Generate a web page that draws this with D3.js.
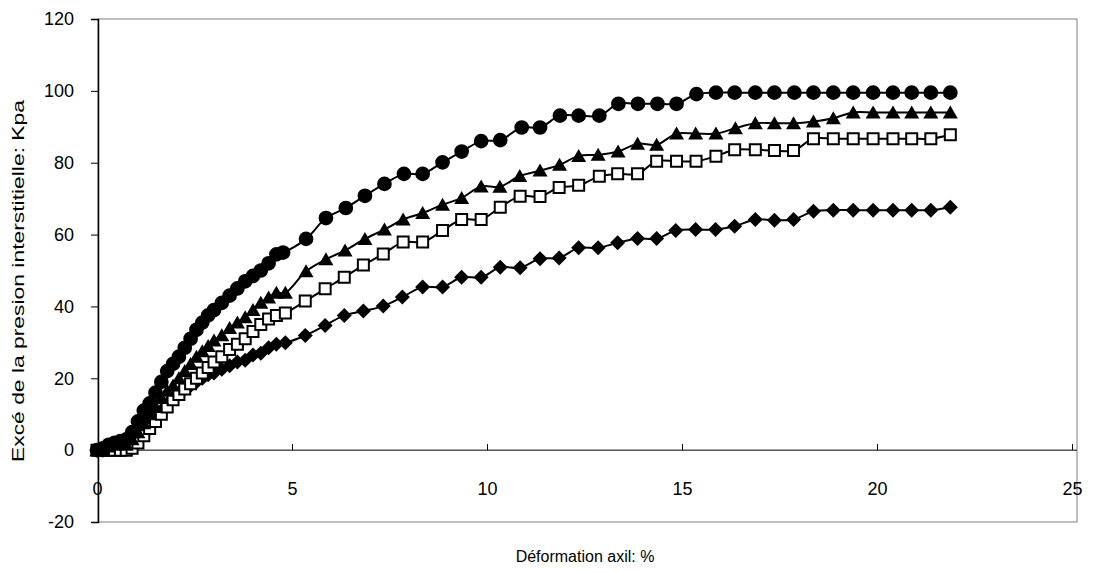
<!DOCTYPE html>
<html>
<head>
<meta charset="utf-8">
<script src="https://cdn.jsdelivr.net/npm/d3@7/dist/d3.min.js"></script>
<style>
  html, body { margin: 0; padding: 0; background: #fff; }
  svg text { font-family: Arial, "Liberation Sans", sans-serif; fill: #000; }
</style>
</head>
<body>
<svg id="chart" width="1093" height="573"></svg>
<script>
// Axial strain (%) and excess pore pressure (kPa) for four tests
const circleX = [0,0.15,0.3,0.45,0.6,0.75,0.9,1.05,1.2,1.35,1.5,1.65,1.8,1.95,2.1,2.25,2.4,2.55,2.7,2.85,3.0,3.2,3.4,3.6,3.8,4.0,4.2,4.4,4.6,4.77,5.36,5.87,6.38,6.87,7.37,7.87,8.35,8.86,9.35,9.85,10.34,10.89,11.36,11.87,12.35,12.88,13.37,13.87,14.37,14.86,15.37,15.87,16.35,16.88,17.37,17.88,18.37,18.88,19.39,19.9,20.41,20.89,21.38,21.88];
const circleY = [0,0.5,1.5,2,2.5,3,5,8,11,13,16,19,22,24,26,28.5,31,33.5,35.5,37.5,39,41,43,45,47,48.5,50,52,54.5,55,58.8,64.6,67.4,70.8,74.1,76.9,76.9,80.1,83.1,86,86.3,89.8,89.8,93.1,93.1,93.1,96.4,96.4,96.4,96.4,99.1,99.5,99.5,99.5,99.5,99.5,99.5,99.5,99.5,99.5,99.5,99.5,99.5,99.5];

const triangleX = [0,0.15,0.3,0.45,0.6,0.75,0.9,1.05,1.2,1.35,1.5,1.65,1.8,1.95,2.1,2.25,2.4,2.55,2.7,2.85,3.0,3.2,3.4,3.6,3.8,4.0,4.2,4.4,4.6,4.83,5.36,5.87,6.36,6.87,7.37,7.85,8.35,8.86,9.35,9.85,10.33,10.84,11.36,11.86,12.35,12.85,13.36,13.86,14.35,14.86,15.35,15.87,16.37,16.88,17.37,17.86,18.37,18.88,19.39,19.9,20.41,20.89,21.38,21.88];
const triangleY = [0,0,1,1.5,2,1.5,3,5,7.5,10,12,14.5,16.5,18,20,22,24,26,27.5,29,30.5,32,34,35.5,37,39,41,42.5,43.8,43.8,49.8,53.1,55.6,58.8,61.4,64.2,66,68.3,70.2,73.4,73.3,76.3,77.8,79.4,81.9,82.2,83.1,85.3,85,88.1,88.1,88.1,89.6,91,91,91,91.5,92.4,94,94,94,94,94,94];

const squareX = [0,0.15,0.3,0.45,0.6,0.75,0.9,1.05,1.2,1.35,1.5,1.65,1.8,1.95,2.1,2.25,2.4,2.55,2.7,2.85,3.0,3.2,3.4,3.6,3.8,4.0,4.2,4.4,4.6,4.83,5.34,5.85,6.34,6.83,7.34,7.85,8.35,8.86,9.35,9.85,10.34,10.85,11.36,11.85,12.35,12.88,13.35,13.86,14.35,14.86,15.36,15.87,16.35,16.88,17.37,17.86,18.37,18.88,19.39,19.9,20.41,20.89,21.38,21.88];
const squareY = [0,0,0,0,0,0,0.5,2,4,6,8,10,12,14,15.5,17,18.5,20,21.5,23,24.5,26,28,29.5,31,33,35,36.5,37.5,38.2,41.5,44.9,48.1,51.5,54.6,57.9,57.9,61.1,64.2,64.2,67.6,70.7,70.6,73.1,73.7,76.2,76.9,76.9,80.4,80.4,80.4,81.8,83.6,83.6,83.4,83.4,86.7,86.7,86.7,86.7,86.7,86.7,86.7,87.8];

const diamondX = [0,0.15,0.3,0.45,0.6,0.75,0.9,1.05,1.2,1.35,1.5,1.65,1.8,1.95,2.1,2.25,2.4,2.55,2.7,2.85,3.0,3.2,3.4,3.6,3.8,4.0,4.2,4.4,4.6,4.83,5.34,5.85,6.34,6.83,7.34,7.83,8.35,8.86,9.35,9.85,10.34,10.85,11.36,11.85,12.35,12.85,13.35,13.86,14.35,14.84,15.35,15.86,16.35,16.88,17.37,17.86,18.37,18.88,19.39,19.9,20.41,20.89,21.38,21.88];
const diamondY = [0,0,0.5,1,1.5,1.5,2.5,4,6,7.5,9.5,11,13,14.5,16,17,18,19,20,21,21.5,22.5,23.5,24.5,25,26.5,27,28.5,29.5,29.9,31.9,34.7,37.5,38.7,40.1,42.6,45.4,45.4,48.1,48.1,50.9,50.8,53.3,53.5,56.3,56.3,57.7,58.9,58.9,61.1,61.4,61.4,62.3,64.2,64,64.2,66.5,66.8,66.8,66.8,66.8,66.8,66.8,67.6];

const xTicks = [0, 5, 10, 15, 20, 25];
const yTicks = [-20, 0, 20, 40, 60, 80, 100, 120];
const xTitle = "Déformation axil: %";
const yTitle = "Excé de la presion interstitielle: Kpa";

const svg = d3.select("#chart");
const x = d3.scaleLinear().domain([0, 25]).range([97, 1072]);
const y = d3.scaleLinear().domain([-20, 120]).range([522, 19]);
const frame = { left: 98, right: 1077, top: y(120), bottom: y(-20) };
const tickFont = 18;

// plot area frame
svg.append("rect")
  .attr("x", frame.left).attr("y", frame.top)
  .attr("width", frame.right - frame.left).attr("height", frame.bottom - frame.top)
  .attr("fill", "none").attr("stroke", "#808080").attr("stroke-width", 1);

// value axis (left)
const yAxis = d3.axisLeft(y).tickValues(yTicks).tickSize(7).tickPadding(17).tickFormat(d => String(d));
const gy = svg.append("g").attr("transform", `translate(${frame.left},0)`).call(yAxis);
gy.select(".domain").attr("stroke", "#000").attr("stroke-width", 1.5);
gy.selectAll(".tick line").attr("stroke", "#000");
gy.selectAll(".tick text").attr("font-size", tickFont).attr("font-family", "Arial, 'Liberation Sans', sans-serif");

// strain axis crossing at y = 0, ticks pointing up, labels lower down
const xAxis = d3.axisBottom(x).tickValues(xTicks).tickSize(-6).tickPadding(0).tickFormat(d => String(d));
const gx = svg.append("g").attr("transform", `translate(0,${y(0)})`).call(xAxis);
gx.select(".domain").attr("d", `M${frame.left},0H${frame.right}`).attr("stroke", "#000").attr("stroke-width", 1);
gx.selectAll(".tick line").attr("stroke", "#000");
gx.selectAll(".tick text").attr("font-size", tickFont).attr("font-family", "Arial, 'Liberation Sans', sans-serif")
  .attr("y", 0).attr("dy", 45);

// axis titles
svg.append("text").attr("x", 585).attr("y", 562).attr("text-anchor", "middle")
  .attr("font-size", 16).text(xTitle);
svg.append("text").attr("transform", `translate(24,281) rotate(-90)`)
  .attr("text-anchor", "middle").attr("font-size", 17)
  .attr("textLength", 362).attr("lengthAdjust", "spacingAndGlyphs").text(yTitle);

const line = d3.line().x(d => x(d[0])).y(d => y(d[1])).curve(d3.curveCatmullRom);

// marker shapes, centred on the data point
const shapes = {
  circle: d3.symbol().type(d3.symbolCircle).size(170)(),
  triangle: "M0,-7L7.5,6L-7.5,6Z",
  square: "M-5.5,-5.5H5.5V5.5H-5.5Z",
  diamond: "M0,-7.5L7.5,0L0,7.5L-7.5,0Z"
};

function drawSeries(xs, ys, shape, fill) {
  const pts = xs.map((v, i) => [v, ys[i]]);
  svg.append("path").datum(pts).attr("d", line)
    .attr("fill", "none").attr("stroke", "#000").attr("stroke-width", 2);
  svg.append("g").selectAll("path").data(pts).join("path")
    .attr("transform", d => `translate(${x(d[0])},${y(d[1])})`)
    .attr("d", shapes[shape])
    .attr("fill", fill).attr("stroke", "#000").attr("stroke-width", fill === "#fff" ? 2 : 0);
}

drawSeries(diamondX, diamondY, "diamond", "#000");
drawSeries(squareX, squareY, "square", "#fff");
drawSeries(triangleX, triangleY, "triangle", "#000");
drawSeries(circleX, circleY, "circle", "#000");
</script>
</body>
</html>
